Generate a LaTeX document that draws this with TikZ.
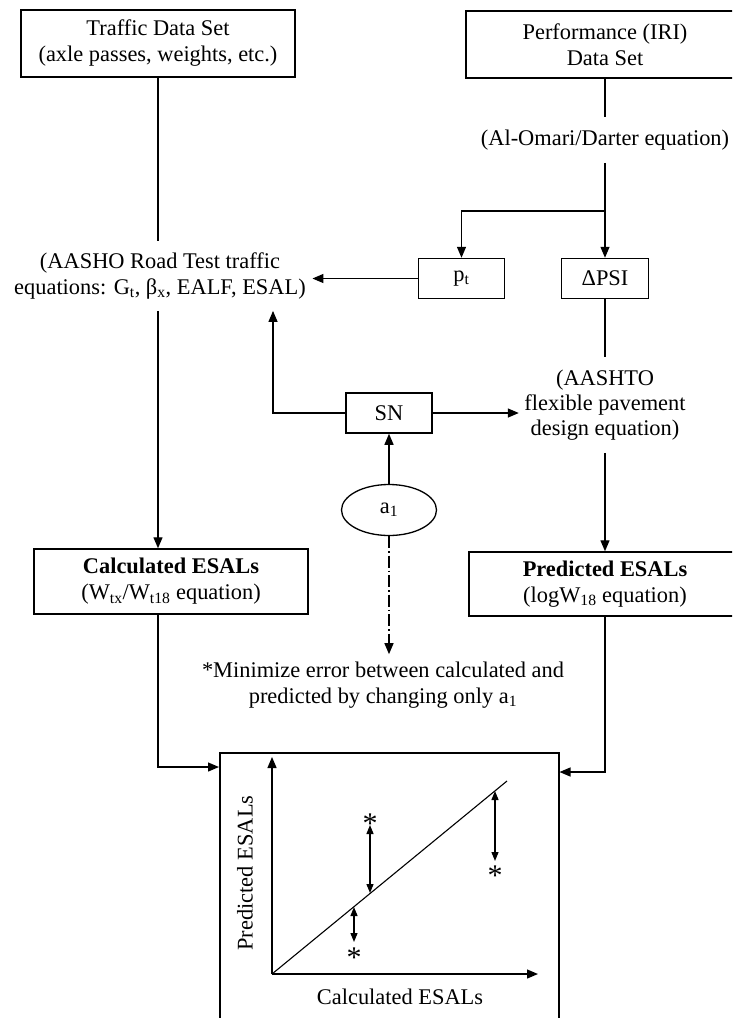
\documentclass[tikz,border=0pt]{standalone}
\usepackage{fontspec}
\setmainfont{Liberation Serif}
\usetikzlibrary{arrows.meta,shapes.geometric}
\begin{document}
\begin{tikzpicture}[x=1pt,y=-1pt,
  font=\fontsize{22.4}{26}\selectfont,
  line width=1.3pt,
  arr/.style={-{Triangle[length=11pt,width=9pt]}},
  sarr/.style={{Triangle[length=9pt,width=7pt]}-{Triangle[length=9pt,width=7pt]}},
  box/.style={draw, line width=1.5pt, inner sep=0pt, align=center},
  lbl/.style={align=center, inner xsep=5pt, inner ysep=12pt},
  star/.style={inner sep=0pt, anchor=base, font=\fontsize{30}{30}\selectfont},
]
\useasboundingbox (0,0) rectangle (732,1018);
\clip (0,0) rectangle (732,1018);
% boxes and labels
\node[box, minimum width=274pt, minimum height=67pt] (traffic) at (158,43.5) {Traffic Data Set\\(axle passes, weights, etc.)};
\node[box, minimum width=278pt, minimum height=67pt] (perf) at (605,44.5) {Performance (IRI)\\Data Set};
\node[lbl] (omari) at (605,140) {(Al-Omari/Darter equation)};
\node[lbl, inner xsep=6pt, inner ysep=11pt] (aasho) at (160,276) {(AASHO Road Test traffic\\equations: G\textsubscript{t}, β\textsubscript{x}, EALF, ESAL)};
\node[box, minimum width=86pt, minimum height=40pt] (pt) at (461.5,278.5) {p\textsubscript{t}};
\node[box, minimum width=87pt, minimum height=40pt] (dpsi) at (605,278.5) {ΔPSI};
\node[lbl, font=\fontsize{22.4}{25}\selectfont] (aashto) at (605,405) {(AASHTO\\flexible pavement\\design equation)};
\node[box, minimum width=86pt, minimum height=40pt] (sn) at (389,413) {SN};
\node[draw, line width=1.3pt, ellipse, inner sep=0pt, minimum width=95pt, minimum height=51pt] (a1) at (389,510) {a\textsubscript{1}};
\node[box, minimum width=274pt, minimum height=65pt] (calc) at (171,581.5) {\textbf{Calculated ESALs}\\(W\textsubscript{tx}/W\textsubscript{t18} equation)};
\node[box, minimum width=272pt, minimum height=64pt] (pred) at (605,584) {\textbf{Predicted ESALs}\\(logW\textsubscript{18} equation)};
\node[lbl, inner ysep=7pt] (minimize) at (383,685) {*Minimize error between calculated and\\predicted by changing only a\textsubscript{1}};
\node[draw, line width=1.5pt, inner sep=0pt, minimum width=339pt, minimum height=280pt, anchor=north west] (plot) at (219,752) {};
% connectors
\draw (traffic.south) -- (aasho.north -| traffic.south);
\draw[arr] (aasho.south -| traffic.south) -- (calc.north -| traffic.south);
\draw (perf.south) -- (omari.north);
\coordinate (br) at (605,211);
\draw (omari.south) -- (br);
\draw[arr] (br) -- (dpsi.north);
\draw[arr] (br) -| (pt.north);
\draw[arr] (pt.west) -- (pt.west -| aasho.east);
\draw (dpsi.south) -- (aashto.north);
\draw[arr] (aashto.south) -- (pred.north);
\draw[arr] (sn.east) -- (sn.east -| aashto.west);
\draw[arr] (sn.west) -| ([xshift=113pt]aasho.south);
\draw[arr] (a1.north) -- (sn.south);
\draw[arr, dash pattern=on 12pt off 3pt on 1.5pt off 3pt] (a1.south) -- (a1.south |- minimize.north);
\draw[arr] (calc.south -| traffic.south) |- ([yshift=-15pt]plot.north west);
\draw[arr] (pred.south) |- ([yshift=-20pt]plot.north east);
% plot
\coordinate (O) at (272,974);
\coordinate (ytip) at (272,757);
\coordinate (xtip) at (538,974);
\coordinate (lend) at (507,781);
\draw[arr] (O) -- (ytip);
\draw[arr] (O) -- (xtip);
\draw[line width=1.1pt] (O) -- (lend);
\coordinate (d1a) at (370,825); \coordinate (d1b) at (370,893);
\coordinate (d2a) at (354,907); \coordinate (d2b) at (354,942);
\coordinate (d3a) at (495,791); \coordinate (d3b) at (495,861);
\draw[sarr] (d1a) -- (d1b);
\draw[sarr] (d2a) -- (d2b);
\draw[sarr] (d3a) -- (d3b);
\node[star] (s1) at (370,833) {*};
\node[star] (s2) at (354,967) {*};
\node[star] (s3) at (495,885) {*};
\node[rotate=90] (ylab) at (245,873) {Predicted ESALs};
\node (xlab) at (400,997) {Calculated ESALs};
\end{tikzpicture}
\end{document}
